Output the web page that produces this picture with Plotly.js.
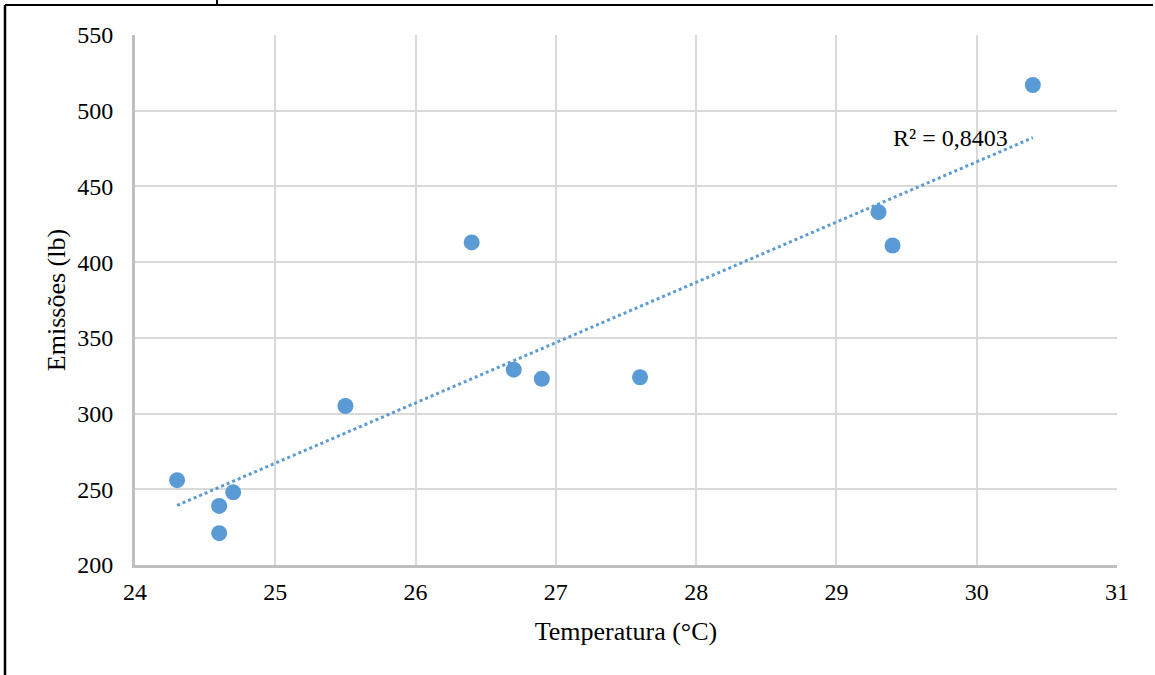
<!DOCTYPE html>
<html>
<head>
<meta charset="utf-8">
<script src="https://cdn.plot.ly/plotly-3.0.1.min.js"></script>
<style>
html,body{margin:0;padding:0;background:#fff;}
#chart{width:1155px;height:675px;}
</style>
</head>
<body>
<div id="chart"></div>
<script>
const temperatura = [24.3, 24.6, 24.6, 24.7, 25.5, 26.4, 26.7, 26.9, 27.6, 29.3, 29.4, 30.4];
const emissoes    = [256, 239, 221, 248, 305, 413, 329, 323, 324, 433, 411, 517];
const xTicks = [24, 25, 26, 27, 28, 29, 30, 31];
const yTicks = [200, 250, 300, 350, 400, 450, 500, 550];
const r2Label = "R² = 0,8403";

// linear least-squares trendline computed from the data
const n = temperatura.length;
const mx = temperatura.reduce((a,b)=>a+b,0)/n;
const my = emissoes.reduce((a,b)=>a+b,0)/n;
let sxy=0, sxx=0;
for(let i=0;i<n;i++){sxy+=(temperatura[i]-mx)*(emissoes[i]-my);sxx+=(temperatura[i]-mx)**2;}
const slope = sxy/sxx, icpt = my - slope*mx;
const xmin = Math.min(...temperatura), xmax = Math.max(...temperatura);
const trendX = [xmin, xmax];
const trendY = trendX.map(x=>icpt+slope*x);

const blue = '#5B9BD5';
const L=135, R=38, T=35, B=110, W=1155, H=675;
const pw = W-L-R, ph = H-T-B;
const px = v => (v-L)/pw;
const py = v => (H-B-v)/ph;

const data = [
  {x: trendX, y: trendY, mode:'lines', line:{color:blue, width:3, dash:'dot'}, hoverinfo:'skip', showlegend:false},
  {x: temperatura, y: emissoes, mode:'markers', marker:{color:blue, size:16}, showlegend:false}
];

const fam = 'Liberation Serif, Times New Roman, serif';
const tickFont = {family:fam, color:'#000', size:24};
const titleFont = {family:fam, color:'#000', size:26};

const layout = {
  width: W, height: H,
  margin:{l:L, r:R, t:T, b:B, pad:0},
  paper_bgcolor:'#fff', plot_bgcolor:'#fff',
  font: tickFont,
  showlegend:false,
  xaxis:{
    range:[24,31], tickvals:xTicks, ticktext:xTicks.map(String),
    showgrid:true, gridcolor:'#D9D9D9', gridwidth:2,
    showline:true, linecolor:'#BFBFBF', linewidth:3,
    zeroline:false, ticks:'', ticklabelstandoff:3,
    tickfont:tickFont,
    title:{text:'Temperatura (°C)', font:titleFont, standoff:19}
  },
  yaxis:{
    range:[200,550], tickvals:yTicks, ticktext:yTicks.map(String),
    showgrid:true, gridcolor:'#D9D9D9', gridwidth:2,
    showline:true, linecolor:'#BFBFBF', linewidth:3,
    zeroline:false, ticks:'', ticklabelstandoff:14,
    tickfont:tickFont,
    title:{text:'Emissões (lb)', font:titleFont, standoff:5}
  },
  annotations:[
    {x:29.81, y:482, xref:'x', yref:'y', text:r2Label, showarrow:false, font:tickFont, xanchor:'center', yanchor:'middle'}
  ],
  shapes:[
    {type:'line', xref:'paper', yref:'paper', x0:px(5), x1:px(1153), y0:py(5), y1:py(5), line:{color:'#000', width:2}},
    {type:'line', xref:'paper', yref:'paper', x0:px(5), x1:px(5), y0:py(5), y1:py(675), line:{color:'#000', width:2.5}},
    {type:'line', xref:'paper', yref:'paper', x0:px(217), x1:px(217), y0:py(0), y1:py(5), line:{color:'#000', width:2}}
  ]
};

Plotly.newPlot('chart', data, layout, {displayModeBar:false, staticPlot:true});
</script>
</body>
</html>
